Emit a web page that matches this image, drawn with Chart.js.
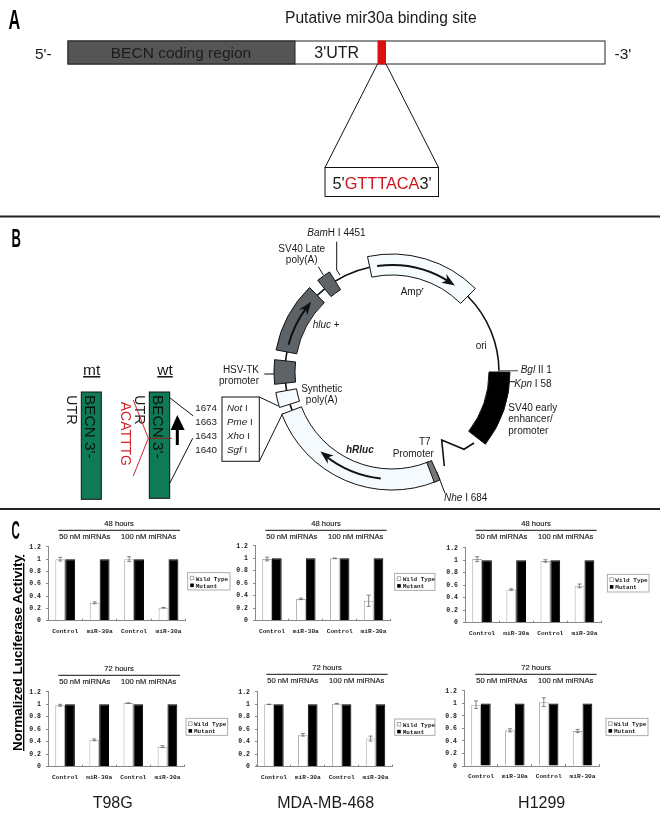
<!DOCTYPE html>
<html>
<head>
<meta charset="utf-8">
<script src="https://cdn.jsdelivr.net/npm/chart.js@4"></script>
<style>
html, body { margin: 0; padding: 0; background: #fff; }
#page { position: relative; width: 660px; height: 817px; overflow: hidden; filter: blur(0.3px); }
#page svg { position: absolute; left: 0; top: 0; }
#page canvas { position: absolute; }
</style>
</head>
<body>
<div id="page">
<svg id="fig" width="660" height="817" font-family="Liberation Sans" fill="#1a1a1a"></svg>
</div>
<script>
// valores
const categorias = ['Control', 'miR-30a', 'Control', 'miR-30a']
const yTicks = ['0', '0.2', '0.4', '0.6', '0.8', '1', '1.2']
const legenda = ['Wild Type', 'Mutant']
const concentracoes = ['50 nM miRNAs', '100 nM miRNAs']

const t98g48Wild = [1.0, 0.29, 1.0, 0.21]
const t98g48Erro = [0.03, 0.015, 0.04, 0.005]
const t98g48Mut = [1, 1, 1, 1]
const t98g72Wild = [0.985, 0.43, 1.02, 0.32]
const t98g72Erro = [0.015, 0.015, 0.003, 0.015]
const t98g72Mut = [1, 1, 1, 1]
const mda48Wild = [0.99, 0.35, 1.0, 0.32]
const mda48Erro = [0.03, 0.012, 0.005, 0.09]
const mda48Mut = [1, 1, 1, 1]
const mda72Wild = [1.0, 0.51, 1.01, 0.45]
const mda72Erro = [0.002, 0.02, 0.005, 0.04]
const mda72Mut = [1, 1, 1, 1]
const h129948Wild = [1.02, 0.53, 0.99, 0.59]
const h129948Erro = [0.04, 0.012, 0.02, 0.03]
const h129948Mut = [1, 1, 1, 1]
const h129972Wild = [0.98, 0.57, 1.02, 0.56]
const h129972Erro = [0.06, 0.025, 0.07, 0.025]
const h129972Mut = [1, 1, 1, 1]

const MONO = 'Liberation Mono'

// caixa de cada grafico na pagina
const paineis = [
    { titulo: '48 hours', wild: t98g48Wild, erro: t98g48Erro, mut: t98g48Mut, x0: 47.7, x1: 186.7, y0: 543.7, y1: 620.3, linha: [58.3, 180, 530.3], leg: [187.7, 572.7, 42.3, 17.3] },
    { titulo: '72 hours', wild: t98g72Wild, erro: t98g72Erro, mut: t98g72Mut, x0: 47.7, x1: 185.3, y0: 688.7, y1: 766.3, linha: [58.3, 180, 675.3], leg: [186, 718.3, 41.7, 17] },
    { titulo: '48 hours', wild: mda48Wild, erro: mda48Erro, mut: mda48Mut, x0: 255.3, x1: 392.7, y0: 543.3, y1: 621, linha: [265.3, 386.7, 530.3], leg: [394.7, 573.3, 40.3, 17] },
    { titulo: '72 hours', wild: mda72Wild, erro: mda72Erro, mut: mda72Mut, x0: 256.7, x1: 393.7, y0: 688.7, y1: 766.3, linha: [266.3, 387.7, 674.3], leg: [394.7, 719, 40.3, 16.3] },
    { titulo: '48 hours', wild: h129948Wild, erro: h129948Erro, mut: h129948Mut, x0: 465, x1: 602.7, y0: 544.7, y1: 622.3, linha: [475.3, 596.7, 530.3], leg: [607.3, 574.3, 41.7, 17.7] },
    { titulo: '72 hours', wild: h129972Wild, erro: h129972Erro, mut: h129972Mut, x0: 464.3, x1: 601.7, y0: 688.3, y1: 766.3, linha: [475.3, 596.7, 674.3], leg: [606, 718.3, 42, 17.4] }
]

const barrasErro = {
    id: 'barrasErro',
    afterDatasetsDraw(chart, args, opts) {
        const ctx = chart.ctx
        const y = chart.scales.y
        ctx.save()
        ctx.strokeStyle = '#666'
        ctx.lineWidth = 0.8
        chart.getDatasetMeta(0).data.forEach((barra, i) => {
            const v = opts.valores[i], e = opts.erros[i]
            const yA = y.getPixelForValue(v + e), yB = y.getPixelForValue(v - e)
            ctx.beginPath()
            ctx.moveTo(barra.x, yA); ctx.lineTo(barra.x, yB)
            ctx.moveTo(barra.x - 2, yA); ctx.lineTo(barra.x + 2, yA)
            ctx.moveTo(barra.x - 2, yB); ctx.lineTo(barra.x + 2, yB)
            ctx.stroke()
        })
        ctx.restore()
    }
}

function criarGrafico(p) {
    const margemEsq = 30, margemTopo = 6, margemDir = 4, margemBaixo = 20
    const canvas = document.createElement('canvas')
    const largura = Math.round(p.x1 - p.x0 + margemEsq + margemDir)
    const altura = Math.round(p.y1 - p.y0 + margemTopo + margemBaixo)
    canvas.width = largura
    canvas.height = altura
    canvas.style.left = (p.x0 - margemEsq) + 'px'
    canvas.style.top = (p.y0 - margemTopo) + 'px'
    document.getElementById('page').appendChild(canvas)

    new Chart(canvas, {
        type: 'bar',
        data: {
            labels: categorias,
            datasets: [
                { label: legenda[0], data: p.wild, backgroundColor: '#fff', borderColor: '#aaa', borderWidth: 1 },
                { label: legenda[1], data: p.mut, backgroundColor: '#000', borderColor: '#000', borderWidth: 1 }
            ]
        },
        options: {
            responsive: false,
            animation: false,
            devicePixelRatio: 1,
            layout: {
                autoPadding: false,
                padding: { left: 0, top: margemTopo, right: largura - margemEsq - (p.x1 - p.x0), bottom: 0 }
            },
            plugins: {
                legend: { display: false },
                tooltip: { enabled: false },
                barrasErro: { valores: p.wild, erros: p.erro }
            },
            datasets: { bar: { categoryPercentage: 0.575, barPercentage: 1 } },
            scales: {
                x: {
                    afterFit: s => { s.height = altura - margemTopo - (p.y1 - p.y0) },
                    border: { color: '#888', width: 1 },
                    grid: { drawOnChartArea: false, tickLength: -2, color: '#888' },
                    ticks: { padding: 9, maxRotation: 0, color: '#222', font: { family: MONO, size: 6.2, weight: 'bold' } }
                },
                y: {
                    min: 0,
                    max: 1.2,
                    afterFit: s => { s.width = margemEsq },
                    border: { color: '#888', width: 1 },
                    grid: { drawOnChartArea: false, tickLength: 2, color: '#888' },
                    ticks: {
                        stepSize: 0.2,
                        padding: 5,
                        color: '#222',
                        font: { family: MONO, size: 6.5, weight: 'bold' },
                        callback: (valor, i) => yTicks[i]
                    }
                }
            }
        },
        plugins: [barrasErro]
    })
}

// partes desenhadas em svg
function t(x, y, texto, attrs) {
    return `<text x="${x}" y="${y}" ${attrs || 'font-size="10"'}>${texto}</text>`
}
function l(x1, y1, x2, y2, attrs) {
    return `<line x1="${x1}" y1="${y1}" x2="${x2}" y2="${y2}" stroke="#111" ${attrs || 'stroke-width="1"'}/>`
}
function v(x, y, texto, attrs) {
    return `<text transform="translate(${x},${y}) rotate(90)" ${attrs}>${texto}</text>`
}

const CX = 392, CY = 372, R = 107
function pt(r, a) {
    const rad = a * Math.PI / 180
    return (CX + r * Math.cos(rad)).toFixed(1) + ' ' + (CY + r * Math.sin(rad)).toFixed(1)
}
function arco(a0, a1, r) {
    return `<path d="M${pt(r || R, a0)} A${r || R} ${r || R} 0 0 1 ${pt(r || R, a1)}" fill="none" stroke="#111" stroke-width="1.6"/>`
}
function setor(a0, a1, cor) {
    const r0 = 97, r1 = 118
    const grande = (a1 - a0) > 180 ? 1 : 0
    return `<path d="M${pt(r0, a0)} A${r0} ${r0} 0 ${grande} 1 ${pt(r0, a1)} L${pt(r1, a1)} A${r1} ${r1} 0 ${grande} 0 ${pt(r1, a0)} Z" fill="${cor}" stroke="#111" stroke-width="1"/>`
}
// seta curva dentro do plasmideo, sempre no sentido horario
function seta(a0, a1) {
    const corpo = `<path d="M${pt(R, a0)} A${R} ${R} 0 0 1 ${pt(R, a1 - 3)}" fill="none" stroke="#111" stroke-width="2"/>`
    return corpo + `<polygon points="${pt(R, a1)} ${pt(R + 5, a1 - 7)} ${pt(R, a1 - 5)} ${pt(R - 5, a1 - 7)}" fill="#111"/>`
}

function painelA() {
    let s = ''
    s += `<text transform="translate(8.5,29) scale(.6,1)" font-size="27" font-weight="bold" fill="#000">A</text>`
    s += t(285, 23, 'Putative mir30a binding site', 'font-size="15.6"')
    s += t(35, 58.5, "5'-", 'font-size="15.5"')
    s += t(614.5, 58.5, "-3'", 'font-size="15.5"')
    s += `<rect x="68" y="41" width="537" height="23" fill="#fff" stroke="#222" stroke-width="1"/>`
    s += `<rect x="68" y="41" width="227" height="23" fill="#555" stroke="#222" stroke-width="1"/>`
    s += `<rect x="377.5" y="40.5" width="8.5" height="24" fill="#dc1010"/>`
    s += t(181, 58, 'BECN coding region', 'font-size="15.5" text-anchor="middle" fill="#1c1c1c"')
    s += t(336.7, 58, "3'UTR", 'font-size="16" text-anchor="middle"')
    s += l(377.5, 64, 325, 167.5) + l(386, 64, 438.5, 167.5)
    s += `<rect x="325" y="167.5" width="113.5" height="29" fill="#fff" stroke="#111" stroke-width="1"/>`
    s += `<text x="332.5" y="188.5" font-size="16.3">5'<tspan fill="#c8161d">GTTTACA</tspan>3'</text>`
    s += `<rect x="0" y="215.5" width="660" height="2" fill="#222"/>`
    return s
}

function painelB() {
    let s = ''
    s += `<text transform="translate(11.5,246.7) scale(.5,1)" font-size="26" font-weight="bold" fill="#000">B</text>`
    // construcoes mt / wt
    s += t(91.7, 375, 'mt', 'font-size="15.5" text-anchor="middle" text-decoration="underline"')
    s += t(165, 375, 'wt', 'font-size="15.5" text-anchor="middle" text-decoration="underline"')
    s += `<rect x="81.3" y="392" width="20" height="107.3" fill="#107a56" stroke="#111"/>`
    s += `<rect x="149.3" y="392" width="20.4" height="106.3" fill="#107a56" stroke="#111"/>`
    s += v(85, 395, "BECN 3'-", 'font-size="15.4" fill="#06140e"')
    s += v(153, 395, "BECN 3'-", 'font-size="15.4" fill="#06140e"')
    s += v(67, 395, 'UTR', 'font-size="14.5"')
    s += v(135, 395, 'UTR', 'font-size="14.5"')
    s += v(121, 401.7, 'ACATTTG', 'font-size="14" fill="#d3222a"')
    s += `<polyline points="133.3,400 148.3,438.3 133.3,476" fill="none" stroke="#d3222a" stroke-width="1"/>`
    s += `<line x1="148.3" y1="438.3" x2="171.7" y2="438.3" stroke="#8f2020" stroke-width="1"/>`
    s += `<rect x="175.8" y="428" width="3" height="17" fill="#000"/>`
    s += `<polygon points="177.3,415 170.7,430 184.7,430" fill="#000"/>`
    s += l(169.7, 397.7, 193.3, 416) + l(169.7, 483.3, 192.7, 438.3)
    // sitios de clonagem
    s += `<rect x="222" y="397" width="37.3" height="64.3" fill="#fff" stroke="#111"/>`
    ;[['1674', 'Not', 411], ['1663', 'Pme', 425], ['1643', 'Xho', 438.7], ['1640', 'Sgf', 452.7]].forEach(r => {
        s += t(217, r[2], r[0], 'font-size="9.8" text-anchor="end"')
        s += `<text x="227" y="${r[2]}" font-size="9.8"><tspan font-style="italic">${r[1]}</tspan> I</text>`
    })
    s += l(259.3, 397, 278.3, 406) + l(259.3, 461.3, 282.7, 413.3)
    s += t(259, 373.3, 'HSV-TK', 'font-size="10" text-anchor="end"')
    s += t(259, 383.7, 'promoter', 'font-size="10" text-anchor="end"')
    s += l(264.3, 374, 274, 374)
    // plasmideo
    s += arco(-45, 0) + arco(-129, -102) + arco(225.7, 231) + arco(186, 191) + arco(170, 174) + arco(159, 162.5)
    s += setor(-102, -45, '#f6fbfe')
    s += setor(0, 37.7, '#000')
    s += setor(67.7, 159, '#f4fafd')
    s += setor(66, 69, '#777')
    s += setor(190.8, 225.7, '#5e6368')
    s += setor(231, 238, '#5e6368')
    s += setor(174, 186, '#5e6368')
    s += setor(162.5, 170, '#f4fafd')
    s += seta(-98, -54)
    s += seta(96, 132)
    s += seta(194.7, 221)
    s += `<polyline points="474,443 464,449.3 441.7,440 444.3,466" fill="none" stroke="#111" stroke-width="1.6"/>`
    s += `<polyline points="336.7,241.7 336.7,270 340,275" fill="none" stroke="#111" stroke-width="1"/>`
    s += l(318.3, 266.7, 323.3, 275)
    s += `<line x1="498" y1="370.7" x2="518" y2="370.7" stroke="#777" stroke-width="1.4"/>`
    s += l(510, 381.7, 515, 381.7)
    s += l(436.7, 471.7, 445, 493.3)
    // rotulos
    s += `<text x="307.3" y="236" font-size="10"><tspan font-style="italic">Bam</tspan>H I 4451</text>`
    s += t(301.7, 252.3, 'SV40 Late', 'font-size="10" text-anchor="middle"')
    s += t(301.7, 262.7, 'poly(A)', 'font-size="10" text-anchor="middle"')
    s += `<text x="312.7" y="327.7" font-size="10"><tspan font-style="italic">hluc</tspan> +</text>`
    s += `<text x="400.7" y="295" font-size="10">Amp<tspan font-size="7" dy="-3" font-style="italic">r</tspan></text>`
    s += t(475.7, 349.3, 'ori')
    s += `<text x="520.7" y="372.7" font-size="10"><tspan font-style="italic">Bgl</tspan> II 1</text>`
    s += `<text x="514.3" y="386.7" font-size="10"><tspan font-style="italic">Kpn</tspan> I 58</text>`
    s += t(508.3, 410.7, 'SV40 early')
    s += t(508.3, 422.3, 'enhancer/')
    s += t(508.3, 434.3, 'promoter')
    s += t(346, 453.3, 'hRluc', 'font-size="10" font-weight="bold" font-style="italic"')
    s += t(419, 445, 'T7')
    s += t(392.7, 456.7, 'Promoter')
    s += `<text x="444" y="500.7" font-size="10"><tspan font-style="italic">Nhe</tspan> I 684</text>`
    s += t(321.7, 392.3, 'Synthetic', 'font-size="10" text-anchor="middle"')
    s += t(321.7, 403.3, 'poly(A)', 'font-size="10" text-anchor="middle"')
    s += `<rect x="0" y="508" width="660" height="2" fill="#222"/>`
    return s
}

function painelC() {
    let s = ''
    s += `<text transform="translate(11.5,539.3) scale(.46,1)" font-size="25" font-weight="bold" fill="#000">C</text>`
    s += `<text transform="translate(22,751) rotate(-90)" font-size="13.5" font-weight="bold" fill="#000" text-decoration="underline">Normalized Luciferase Activity</text>`
    s += t(112.7, 807.7, 'T98G', 'font-size="16" text-anchor="middle"')
    s += t(325.7, 807.7, 'MDA-MB-468', 'font-size="16" text-anchor="middle"')
    s += t(541.7, 807.7, 'H1299', 'font-size="16" text-anchor="middle"')
    const fonteTopo = 'font-size="7.6" stroke="#1a1a1a" stroke-width=".15"'
    paineis.forEach(p => {
        const [lx0, lx1, ly] = p.linha
        s += t((lx0 + lx1) / 2, ly - 4.3, p.titulo, fonteTopo + ' text-anchor="middle"')
        s += l(lx0, ly, lx1, ly)
        s += t(lx0 + 1, ly + 8.2, concentracoes[0], fonteTopo)
        s += t(lx0 + 62.7, ly + 8.2, concentracoes[1], fonteTopo)
        const [bx, by, bw, bh] = p.leg
        s += `<rect x="${bx}" y="${by}" width="${bw}" height="${bh}" fill="#fff" stroke="#999" stroke-width=".8"/>`
        s += `<rect x="${bx + 2.5}" y="${by + 3.5}" width="3.6" height="3.6" fill="#fff" stroke="#888" stroke-width=".7"/>`
        s += `<rect x="${bx + 2.5}" y="${by + 10.8}" width="3.6" height="3.6" fill="#000"/>`
        s += t(bx + 8, by + 7.8, legenda[0], `font-size="6" font-weight="bold" font-family="${MONO}"`)
        s += t(bx + 8, by + 15, legenda[1], `font-size="6" font-weight="bold" font-family="${MONO}"`)
    })
    return s
}

document.getElementById('fig').innerHTML = painelA() + painelB() + painelC()
paineis.forEach(criarGrafico)
</script>
</body>
</html>
